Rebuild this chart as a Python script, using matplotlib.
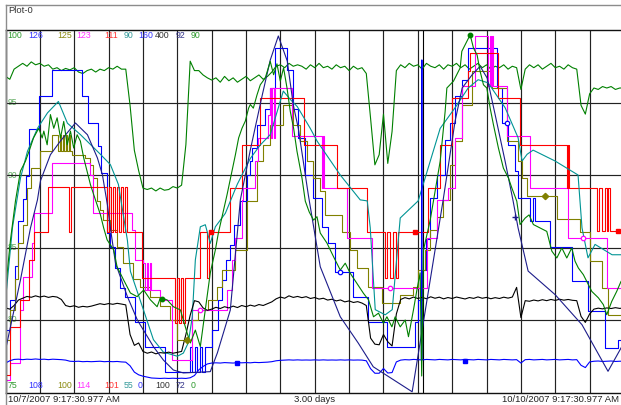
import numpy as np
import matplotlib.pyplot as plt
from matplotlib.lines import Line2D

plt.rcParams['font.family'] = ['Liberation Sans', 'DejaVu Sans']

W, H = 621, 405
span_h = 72.0   # 3.00 days, in hours after 10/7/2007 9:17:30.977 AM

# pen 1, green, 75..100 (sampled every 30 min)
g1_v = [96.8, 96.6, 97.3, 97.5, 97.7, 97.5, 97.8, 97.6, 97.7, 97.5,
        97.6, 97.3, 97.4, 97.2, 97.35, 97.25, 97.4, 97.1, 97.0, 97.2,
        97.3, 97.1, 97.3, 97.2, 97.4, 97.3, 97.5, 97.3, 97.3, 94.8,
        91.7, 90.3, 89.1, 89.0, 89.1, 88.9, 89.1, 88.95, 89.0, 89.2,
        89.1, 89.3, 92.1, 97.85, 97.2, 97.2, 96.9, 96.7, 96.55, 96.7,
        96.4, 96.8, 96.5, 96.7, 96.4, 96.6, 96.8, 96.5, 96.7, 96.9,
        96.6, 96.8, 97.1, 97.5, 97.6, 97.4, 97.7, 97.5, 97.6, 97.5,
        97.3, 97.6, 97.4, 97.7, 97.4, 97.5, 97.3, 97.6, 97.4, 97.5,
        97.2, 97.5, 97.3, 97.4, 97.0, 93.9, 90.7, 91.4, 94.2, 90.8,
        93.0, 97.2, 97.6, 97.4, 97.7, 97.5, 97.6, 97.3, 97.7, 97.5,
        97.4, 97.6, 97.3, 97.6, 97.5, 97.7, 97.4, 97.6, 97.3, 97.5,
        97.7, 97.4, 97.6, 97.3, 97.5, 97.4, 97.6, 97.3, 97.5, 97.4,
        95.9, 97.3, 97.6, 97.4, 97.6, 97.3, 97.5, 97.7, 97.4, 97.5,
        97.3, 97.6, 97.4, 97.3, 94.8, 94.2, 95.6, 96.0, 95.9, 96.1,
        96.0, 96.1, 95.9, 96.0, 96.0]
g1_t = np.linspace(0, span_h, len(g1_v))

# pen 2, blue steps, 108..126
b1_t = [0, 0.58, 1.05, 1.51, 1.98, 2.33, 2.68, 3.95, 5.47, 8.96,
        9.65, 10.82, 11.17, 11.86, 12.21, 12.8, 13.38, 13.96, 15.12, 16.28,
        18.61, 21.52, 21.75, 22.1, 22.33, 22.68, 22.92, 23.26, 24.08, 24.78,
        25.24, 25.71, 26.17, 26.64, 27.34, 28.15, 28.5, 28.73, 29.31, 30.24,
        30.82, 31.41, 32.8, 33.5, 34.08, 34.9, 35.83, 36.87, 37.57, 38.39,
        40.48, 42.22, 44.43, 47.69, 48.04, 48.5, 48.97, 49.44, 50.25, 51.18,
        51.76, 52.34, 53.16, 53.86, 57.23, 57.81, 58.51, 59.32, 59.67, 61.07,
        61.42, 61.65, 63.39, 65.95, 67.81, 69.79, 71.31]
b1_v = [111.1, 112.6, 114.3, 116.5, 117.6, 118.75, 121.1, 122.7, 124.0, 122.7,
        121.4, 120.25, 118.9, 115.9, 115.2, 114.2, 113.2, 112.75, 111.5, 110.25,
        109.0, 110.25, 109.0, 110.25, 109.0, 110.25, 109.0, 110.25, 111.1, 112.6,
        113.6, 114.6, 115.3, 116.3, 117.5, 118.8, 119.5, 120.15, 121.3, 122.1,
        123.1, 125.1, 124.0, 122.1, 120.65, 118.8, 117.65, 116.2, 115.4, 114.0,
        112.75, 111.5, 110.25, 111.5, 112.6, 114.1, 115.6, 117.65, 118.8, 120.55,
        121.4, 122.7, 123.5, 125.1, 123.1, 121.4, 120.3, 119.0, 117.65, 116.5,
        117.65, 116.5, 115.2, 113.55, 112.05, 110.2, 110.6]

# pen 3, olive steps, 100..125
ol_t = [0, 0.58, 1.05, 1.4, 1.98, 2.56, 3.02, 4.07, 5.47, 6.16,
        6.33, 6.51, 6.68, 6.86, 7.03, 7.21, 7.38, 7.56, 7.79, 9.31,
        9.89, 10.24, 10.7, 11.05, 11.4, 12.21, 13.03, 13.73, 14.89, 15.7,
        16.87, 18.03, 19.19, 20.0, 21.75, 22.45, 23.61, 24.66, 25.24, 26.76,
        28.15, 29.31, 30.01, 30.82, 32.34, 33.5, 34.31, 35.13, 35.83, 36.64,
        37.22, 39.2, 40.13, 40.94, 42.22, 43.85, 45.95, 47.46, 48.04, 48.86,
        49.44, 50.25, 50.95, 51.76, 52.34, 53.16, 54.32, 56.65, 58.39, 59.67,
        60.14, 60.72, 64.21, 66.88, 68.05, 69.44, 70.14]
ol_v = [103.6, 105.7, 107.8, 110.3, 111.55, 114.1, 115.5, 116.65, 117.75, 116.65,
        117.75, 116.65, 117.75, 116.65, 117.75, 116.65, 117.75, 116.65, 116.4, 116.2,
        115.7, 114.8, 113.2, 112.6, 111.9, 111.2, 110.05, 108.9, 107.8, 107.3,
        106.6, 105.95, 105.0, 103.6, 105.0, 105.7, 106.4, 107.3, 108.45, 109.8,
        113.2, 115.95, 117.1, 118.45, 119.85, 118.45, 117.35, 115.95, 114.8, 113.9,
        112.25, 111.1, 109.8, 108.6, 107.3, 106.15, 106.7, 107.3, 108.45, 109.8,
        111.2, 112.1, 113.3, 115.7, 117.35, 119.8, 122.15, 121.0, 117.35, 115.95,
        114.8, 113.55, 112.0, 111.1, 109.05, 107.2, 105.35]

# pen 4, magenta steps, 114..123
mg_t = [0, 0.47, 1.74, 1.98, 3.14, 3.26, 5.47, 9.89, 10.24, 14.77,
        15.12, 16.05, 16.28, 16.46, 16.63, 16.81, 16.98, 18.03, 19.43, 21.75,
        25.82, 26.41, 26.76, 27.57, 27.68, 29.08, 29.43, 30.59, 30.75, 30.9,
        31.05, 31.2, 31.35, 33.35, 36.87, 37.0, 37.1, 39.78, 42.69, 49.09,
        50.25, 51.53, 52.34, 53.16, 54.67, 56.2, 56.35, 56.5, 56.65, 56.8,
        58.39, 61.07, 65.49, 70.02]
mg_v = [114.31, 114.73, 116.05, 116.87, 117.71, 118.46, 119.70, 119.40, 118.46, 118.04,
        117.29, 117.22, 116.54, 117.22, 116.54, 117.22, 116.54, 116.30, 114.81, 116.05,
        116.54, 117.29, 117.84, 118.78, 119.08, 119.75, 120.32, 120.89, 121.56, 120.32,
        121.56, 120.32, 121.56, 120.37, 119.08, 120.37, 119.08, 117.84, 116.59, 117.84,
        118.78, 119.08, 120.32, 121.61, 122.85, 121.61, 122.85, 121.61, 122.85, 121.61,
        120.37, 119.08, 117.84, 116.59]

# pen 5, red steps, 101..111
rd_t = [0, 0.58, 1.74, 2.68, 3.26, 4.89, 7.44, 7.68, 11.86, 12.1,
        12.33, 12.56, 12.8, 13.03, 13.26, 13.49, 13.73, 13.96, 14.19, 15.94,
        19.77, 20.0, 20.24, 20.47, 20.7, 20.9, 22.68, 23.46, 23.7, 26.17,
        27.53, 29.66, 34.7, 38.58, 42.11, 44.2, 44.45, 44.77, 45.15, 45.43,
        45.7, 49.23, 50.6, 51.96, 53.86, 54.09, 57.38, 59.9, 65.33, 65.5,
        65.65, 68.86, 69.05, 69.44, 69.79, 69.98, 70.17, 70.4]
rd_v = [101.48, 102.81, 103.55, 104.66, 105.43, 106.67, 105.43, 106.67, 105.43, 106.67,
        105.43, 106.67, 105.43, 106.67, 105.43, 106.67, 105.43, 106.67, 105.43, 104.15,
        102.92, 104.15, 102.92, 104.15, 102.92, 104.15, 105.43, 104.15, 105.43, 106.64,
        107.84, 109.12, 107.84, 106.64, 105.43, 104.15, 105.43, 104.15, 105.43, 104.15,
        105.43, 106.64, 107.84, 109.12, 109.86, 110.37, 109.12, 107.84, 106.64, 107.84,
        106.64, 105.45, 106.64, 105.45, 106.64, 105.45, 106.64, 105.45]

# pen 6, teal, 55..90
tl_t = [0, 0.81, 1.74, 2.56, 3.72, 4.89, 6.16, 7.21, 8.72, 11.05,
        12.21, 13.14, 14.19, 14.54, 16.05, 17.22, 18.38, 20.0, 20.7, 21.28,
        21.74, 22.1, 22.68, 23.26, 23.84, 24.43, 25.01, 25.59, 26.98, 28.5,
        29.66, 30.82, 32.34, 33.15, 33.97, 35.48, 36.29, 38.97, 41.29, 42.11,
        42.46, 43.04, 44.2, 45.02, 45.95, 48.04, 50.6, 52.34, 53.86, 55.02,
        56.18, 58.16, 59.67, 60.14, 60.72, 61.42, 63.98, 66.65, 67.11, 67.81,
        68.63, 70.61, 72.0]
tl_v = [63.9, 70.9, 75.7, 78.3, 80.5, 82.0, 83.1, 81.0, 79.9, 78.0,
        77.0, 75.1, 69.7, 66.7, 63.0, 60.1, 58.9, 58.5, 58.8, 59.8,
        62.3, 67.8, 71.0, 71.2, 69.4, 71.0, 71.65, 72.3, 75.1, 77.6,
        78.9, 79.9, 84.1, 83.3, 82.6, 80.5, 79.25, 76.0, 73.6, 73.5,
        70.9, 63.0, 62.5, 63.0, 71.85, 73.5, 80.5, 82.5, 84.4, 85.2,
        84.9, 82.5, 79.6, 77.35, 78.0, 78.4, 77.35, 76.0, 70.9, 68.0,
        69.3, 68.3, 68.3]

# pen 7, blue, 0..160 (sampled every 30 min, plus one short spike)
bb_v = [13.0, 14.0, 14.6, 14.7, 14.5, 14.7, 14.6, 14.8, 14.6, 14.7,
        14.5, 14.7, 14.6, 14.5, 14.3, 13.8, 13.7, 13.8, 13.6, 13.7,
        13.6, 13.7, 13.8, 13.6, 13.7, 13.6, 13.7, 13.5, 13.4, 11.8,
        9.0, 7.8, 7.2, 6.8, 6.4, 6.3, 6.2, 6.3, 6.2, 6.3,
        6.2, 6.3, 6.2, 6.5, 7.5, 10.0, 11.5, 12.6, 13.0, 13.1,
        13.0, 13.2, 13.1, 13.0, 13.2, 13.1, 13.2, 13.1, 13.3, 13.2,
        13.3, 13.4, 13.6, 14.0, 14.2, 14.3, 14.4, 14.3, 14.4, 14.3,
        14.35, 14.3, 14.4, 14.3, 14.4, 14.3, 14.35, 14.3, 14.4, 14.3,
        14.4, 14.3, 14.35, 14.3, 14.0, 10.5, 8.5, 8.5, 10.6, 8.6,
        8.8, 13.5, 14.3, 14.5, 14.4, 14.6, 14.5, 14.4, 14.6, 14.5,
        14.4, 14.6, 14.5, 14.4, 14.6, 14.5, 14.4, 14.6, 14.5, 14.4,
        14.6, 14.5, 14.4, 14.6, 14.5, 14.4, 14.6, 14.5, 14.4, 14.5,
        13.0, 14.5, 14.6, 14.4, 14.5, 14.6, 14.4, 14.5, 14.6, 14.4,
        14.5, 14.6, 14.4, 14.5, 12.0, 11.0, 13.5, 13.8, 13.9, 13.7,
        13.8, 13.9, 13.7, 13.8, 13.8]
bb_spike_t = [48.4, 48.47, 48.54]
bb_spike_v = [14.4, 146.8, 14.4]

# pen 8, black, 100..400 (sampled every 30 min)
bk_v = [170, 169, 172, 176.5, 178, 179.5, 178.8, 180, 179, 179.8,
        178.7, 179.5, 179, 177, 172, 171, 171.8, 170.5, 171.3, 170.8,
        171.5, 172.5, 173.5, 172.8, 173.6, 173, 173.8, 173.2, 172.5, 148,
        139, 141, 134, 132.5, 133.5, 132, 133, 132.6, 133.4, 132.5,
        133.2, 134, 148, 164, 176, 175, 170, 168, 169, 170.5,
        169.5, 171, 170, 171.5, 170.3, 172, 171, 172.3, 171.4, 172.8,
        172, 173.5, 175, 177.5, 179, 178, 180, 178.7, 179.5, 178.5,
        179.3, 177.8, 178.6, 177.3, 178, 176.5, 177.2, 175.8, 176.6, 175,
        175.8, 174.5, 175.2, 174, 172, 145, 140, 139.5, 148, 142,
        138.5, 165, 177, 178.5, 177.5, 179, 177.8, 178.8, 177.6, 179.2,
        178, 178.9, 177.5, 178.6, 177.8, 179, 178.2, 177.4, 178.6, 177.9,
        179.1, 178, 178.7, 177.6, 178.5, 177.8, 178.9, 178.1, 179, 187,
        162, 176, 175.5, 176.5, 175.8, 176.8, 176, 177, 176.2, 177.2,
        176.4, 177, 176.3, 176, 163, 158, 165, 169, 169.8, 169.2,
        170, 169.5, 170.2, 169.6, 170]
bk_t = np.linspace(0, span_h, len(bk_v))

# pen 9, navy, 72..92
nv_t = [0, 1.74, 2.91, 3.72, 4.07, 5.23, 6.4, 8.14, 9.54, 10.7,
        11.28, 11.86, 12.21, 12.8, 14.19, 15.35, 17.22, 18.38, 19.54, 20.7,
        23.84, 24.66, 26.17, 27.34, 28.5, 29.89, 30.82, 31.76, 32.8, 33.5,
        34.08, 34.66, 35.25, 36.64, 38.97, 41.06, 42.81, 47.34, 50.95, 52.34,
        53.16, 54.32, 55.25, 56.07, 57.0, 58.16, 59.09, 59.67, 60.84, 63.98,
        67.11, 70.14, 71.66, 72.0]
nv_v = [74.34, 78.21, 81.08, 82.63, 83.68, 85.12, 85.88, 86.87, 86.22, 84.94,
        84.02, 82.36, 81.08, 79.14, 77.29, 76.0, 74.53, 73.79, 73.24, 73.08,
        73.15, 74.18, 76.55, 82.63, 85.38, 88.41, 90.34, 91.67, 90.29, 87.86,
        86.59, 84.77, 82.91, 78.94, 76.18, 74.73, 73.42, 72.04, 82.63, 86.98,
        88.8, 89.53, 90.0, 89.35, 87.33, 84.76, 82.57, 81.08, 78.7, 77.4,
        75.74, 73.17, 74.46, 74.8]

# pen 10, green, 0..90
g2_t = [0, 0.58, 1.16, 1.74, 2.33, 2.79, 3.26, 3.87, 4.27, 4.46,
        4.85, 5.23, 5.62, 6.01, 6.4, 6.78, 7.18, 7.56, 7.94, 8.34,
        8.72, 9.11, 9.5, 9.89, 10.27, 10.67, 11.05, 11.43, 11.83, 12.6,
        12.99, 13.76, 14.54, 15.32, 16.09, 16.87, 17.65, 18.03, 18.81, 19.54,
        20.36, 21.14, 21.52, 22.1, 22.68, 23.26, 23.84, 24.43, 24.78, 25.21,
        25.79, 26.37, 26.76, 27.14, 27.53, 27.92, 28.3, 28.5, 28.85, 29.28,
        29.66, 30.24, 30.82, 31.21, 31.6, 31.99, 32.37, 32.77, 33.15, 33.54,
        33.93, 34.51, 34.9, 35.36, 35.86, 36.26, 36.64, 37.42, 38.19, 38.97,
        39.55, 40.13, 40.91, 41.68, 42.26, 42.84, 43.42, 44.0, 44.4, 44.98,
        45.36, 45.95, 46.53, 46.91, 47.49, 47.89, 48.27, 48.45, 48.66, 49.44,
        50.6, 51.18, 51.38, 52.15, 52.93, 53.12, 54.09, 54.48, 54.9, 55.25,
        55.64, 56.03, 56.42, 56.8, 57.38, 57.96, 58.54, 58.94, 59.52, 59.9,
        60.49, 60.95, 61.45, 62.23, 63.01, 63.6, 64.18, 64.76, 65.34, 65.92,
        66.3, 66.69, 67.27, 67.66, 68.25, 69.02, 69.6, 69.99, 70.57, 71.15,
        71.66, 72.0]
g2_v = [25.45, 37.9, 47.55, 54.97, 57.47, 60.2, 63.19, 65.6, 63.19, 64.9,
        61.5, 69.0, 65.6, 68.2, 63.2, 67.3, 61.5, 64.9, 60.7, 64.0,
        62.4, 58.2, 54.9, 51.6, 49.1, 46.6, 44.15, 40.85, 37.9, 35.4,
        31.2, 27.9, 24.7, 23.8, 25.45, 23.0, 21.3, 23.5, 23.0, 21.3,
        20.5, 14.8, 12.3, 15.5, 11.4, 20.5, 29.7, 35.4, 39.6, 43.65,
        49.1, 55.0, 59.0, 63.2, 65.6, 67.4, 70.6, 71.5, 70.6, 73.9,
        76.4, 78.1, 82.2, 78.9, 81.6, 77.3, 80.6, 75.6, 69.8, 65.6,
        59.9, 53.3, 47.5, 44.8, 42.8, 43.65, 39.6, 37.1, 33.7, 30.4,
        32.1, 29.6, 27.1, 24.6, 23.0, 18.8, 19.7, 17.2, 18.8, 16.3,
        18.8, 16.3, 18.0, 13.85, 20.5, 25.45, 29.7, 4.1, 35.4, 42.8,
        57.4, 69.8, 75.6, 77.3, 80.6, 84.7, 88.8, 85.5, 83.8, 79.75,
        76.4, 75.6, 70.6, 66.5, 60.7, 55.7, 53.3, 50.8, 47.5, 41.7,
        43.3, 44.1, 41.7, 40.85, 40.0, 35.1, 33.4, 35.9, 33.4, 35.9,
        32.6, 30.9, 29.25, 27.6, 25.1, 23.5, 21.8, 19.3, 22.6, 25.1,
        27.6, 28.4]

# event marks on some pens
g2_mk_t, g2_mk_v = [18.23, 54.09], [23.2, 88.8]
b1_mk_t, b1_mk_v = [38.97, 58.39], [114.0, 121.4]
mg_mk_t, mg_mk_v = [22.68, 44.78, 67.23], [116.05, 116.59, 117.84]
rd_mk_t, rd_mk_v = [23.96, 47.69, 71.31], [105.43, 105.43, 105.45]
ol_mk_t, ol_mk_v = [21.17, 62.81], [103.6, 113.55]
nv_mk_t, nv_mk_v = [59.32], [81.7]
bb_mk_t, bb_mk_v = [26.95, 53.5], [13.15, 13.9]

cursor_h = 48.55

green = '#008000'
blue = '#0000ff'
olive = '#808000'
magenta = '#ff00ff'
red = '#ff0000'
teal = '#009494'
navy = '#1c1c8a'
black = '#000000'

bb_t = np.concatenate([np.linspace(0, span_h, len(bb_v)), bb_spike_t])
bb_all = np.concatenate([bb_v, bb_spike_v])
order = np.argsort(bb_t, kind='stable')
bb_t, bb_all = bb_t[order], bb_all[order]

# (times, values, bottom, top, colour, step, marks, marker)
pens = [
    (g1_t, g1_v, 75, 100, green, False, None, None),
    (b1_t, b1_v, 108, 126, blue, True, (b1_mk_t, b1_mk_v), 'o_open'),
    (ol_t, ol_v, 100, 125, olive, True, (ol_mk_t, ol_mk_v), 'D'),
    (mg_t, mg_v, 114, 123, magenta, True, (mg_mk_t, mg_mk_v), 'o_open'),
    (rd_t, rd_v, 101, 111, red, True, (rd_mk_t, rd_mk_v), 's'),
    (tl_t, tl_v, 55, 90, teal, False, None, None),
    (bb_t, bb_all, 0, 160, blue, False, (bb_mk_t, bb_mk_v), 's'),
    (bk_t, bk_v, 100, 400, black, False, None, None),
    (nv_t, nv_v, 72, 92, navy, False, (nv_mk_t, nv_mk_v), '+'),
    (g2_t, g2_v, 0, 90, green, False, (g2_mk_t, g2_mk_v), 'o'),
]
top_labels = ['100', '126', '125', '123', '111', '90', '160', '400', '92', '90']
bot_labels = ['75', '108', '100', '114', '101', '55', '0', '100', '72', '0']
label_colors = ['#2f9a2f', '#3333ff', '#8a8a10', '#ff33ff', '#ff3333',
                '#339999', '#3333ff', '#333333', '#33338a', '#2f9a2f']
label_x = [7.5, 28, 57, 76, 104, 123.5, 138, 155, 176, 190.5]
green_scale = ['95', '90', '85', '80']

fig = plt.figure(figsize=(W / 100, H / 100), dpi=100)
ax = fig.add_axes([5.5 / W, 12.5 / H, 618.5 / W, 362.5 / H])
ax.set_xlim(0, span_h)
ax.set_ylim(0, 1)
ax.set_xticks([])
ax.set_yticks([])
for side in ['top', 'bottom', 'left', 'right']:
    ax.spines[side].set_color('#111111')
    ax.spines[side].set_linewidth(1.0)

for h in range(4, 72, 4):
    ax.axvline(h, color='#222222', lw=0.85, zorder=1)
for f in [0.2, 0.4, 0.6, 0.8]:
    ax.axhline(f, color='#222222', lw=0.85, zorder=1)

for lab, f in zip(green_scale, [0.8, 0.6, 0.4, 0.2]):
    ax.text(0.25, f, lab, color='#5aa85a', fontsize=6.2, va='center',
            ha='left', zorder=0.5)

for i, (t, v, lo, hi, col, step, mk, mstyle) in enumerate(pens):
    t = np.asarray(t, dtype=float)
    nvals = (np.asarray(v, dtype=float) - lo) / (hi - lo)
    if step:
        t = np.append(t, span_h)
        nvals = np.append(nvals, nvals[-1])
        ax.step(t, nvals, where='post', color=col, lw=0.8, zorder=2 + i * 0.1)
    else:
        ax.plot(t, nvals, color=col, lw=0.8, zorder=2 + i * 0.1)
    if mk is not None:
        mt, mv = mk
        mv = (np.asarray(mv) - lo) / (hi - lo)
        if mstyle == 'o_open':
            ax.plot(mt, mv, 'o', ms=3.2, mfc='white', mec=col, mew=0.9,
                    ls='none', zorder=3)
        elif mstyle == '+':
            ax.plot(mt, mv, '+', ms=5, color=col, mew=1.0, ls='none', zorder=3)
        else:
            ax.plot(mt, mv, mstyle, ms=3.2, color=col, ls='none', zorder=3)

ax.axvline(cursor_h, color='black', lw=0.8, zorder=1.5)


def fx(x):
    return x / W


def fy(y):
    return 1 - y / H


for lab_t, lab_b, col, x in zip(top_labels, bot_labels, label_colors, label_x):
    fig.text(fx(x), fy(35.5), lab_t, color=col, fontsize=6.3, va='center', ha='left')
    fig.text(fx(x), fy(385.5), lab_b, color=col, fontsize=6.3, va='center', ha='left')

# outer frame of the trend window
fig.add_artist(Line2D([fx(5.5), 1], [fy(4.5), fy(4.5)], color='#8c8c8c', lw=1.0,
                      transform=fig.transFigure))
fig.add_artist(Line2D([fx(5.5), fx(5.5)], [fy(4.5), 0], color='#8c8c8c', lw=1.0,
                      transform=fig.transFigure))

fig.text(fx(8), fy(10.5), 'Plot-0', fontsize=6.8, color='#333333', va='center')
fig.text(fx(8), fy(399), '10/7/2007 9:17:30.977 AM', fontsize=6.8,
         color='#222222', va='center', ha='left')
fig.text(fx(315), fy(399), '3.00 days', fontsize=6.8, color='#222222',
         va='center', ha='center')
fig.text(fx(619), fy(399), '10/10/2007 9:17:30.977 AM', fontsize=6.8,
         color='#222222', va='center', ha='right')

fig.savefig('out.png', dpi=100)
